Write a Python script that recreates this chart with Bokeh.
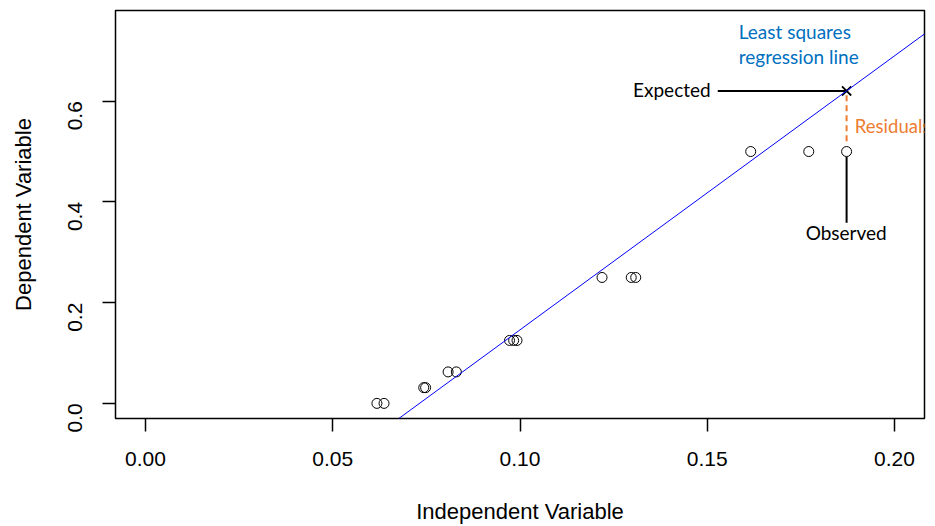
import math
from bokeh.plotting import figure
from bokeh.models import Range1d, FixedTicker, Label, Slope, NumeralTickFormatter
from bokeh.embed import file_html
from bokeh.resources import INLINE

# ---- data ----
x_obs = [0.0618, 0.0637, 0.0743, 0.0748, 0.0808, 0.0830, 0.0972, 0.0983, 0.0992,
         0.1219, 0.1297, 0.1309, 0.1616, 0.1771, 0.1872]
y_obs = [0.0, 0.0, 0.03125, 0.03125, 0.0625, 0.0625, 0.125, 0.125, 0.125,
         0.25, 0.25, 0.25, 0.5, 0.5, 0.5]
x_ticks = [0.00, 0.05, 0.10, 0.15, 0.20]
y_ticks = [0.0, 0.2, 0.4, 0.6]
fit_slope = 5.44
fit_intercept = -0.398
x_sel = 0.1872          # highlighted observation
y_sel_obs = 0.5
y_sel_exp = fit_slope * x_sel + fit_intercept

LABEL_FONT = "Lato"
AXIS_FONT = "Liberation Sans"

p = figure(width=935, height=526, output_backend="svg", toolbar_location=None,
           x_range=Range1d(-0.008, 0.208), y_range=Range1d(-0.03, 0.78),
           min_border_left=115, min_border_right=11, min_border_top=10, min_border_bottom=106)
p.grid.visible = False
p.outline_line_color = "black"
p.outline_line_width = 1.5
p.background_fill_color = "white"
p.border_fill_color = "white"

for ax in (p.xaxis[0], p.yaxis[0]):
    ax.axis_line_color = None
    ax.major_tick_line_color = "black"
    ax.major_tick_line_width = 1.5
    ax.minor_tick_line_color = None
    ax.major_tick_in = 0
    ax.major_label_text_font = AXIS_FONT
    ax.major_label_text_font_size = "21px"
    ax.major_label_text_color = "black"
    ax.axis_label_text_font = AXIS_FONT
    ax.axis_label_text_font_size = "22px"
    ax.axis_label_text_font_style = "normal"
    ax.axis_label_text_color = "black"

p.xaxis.ticker = FixedTicker(ticks=x_ticks)
p.yaxis.ticker = FixedTicker(ticks=y_ticks)
p.xaxis.formatter = NumeralTickFormatter(format="0.00")
p.yaxis.formatter = NumeralTickFormatter(format="0.0")
p.xaxis.axis_label = "Independent Variable"
p.yaxis.axis_label = "Dependent Variable"
p.xaxis.major_tick_out = 13
p.yaxis.major_tick_out = 13
p.xaxis.major_label_standoff = 20
p.xaxis.axis_label_standoff = 30
p.yaxis.major_label_orientation = math.pi / 2
p.yaxis.major_label_standoff = 27
p.yaxis.axis_label_standoff = 23

# regression line
p.add_layout(Slope(gradient=fit_slope, y_intercept=fit_intercept,
                   line_color="#0000FF", line_width=1))

# observations
p.scatter(x_obs, y_obs, marker="circle", size=10, fill_color=None,
          line_color="black", line_width=1)

# expected point
p.scatter([x_sel], [y_sel_exp], marker="x", size=13, line_color="black", line_width=1.8)

# pointer to expected
p.line([0.1528, x_sel], [y_sel_exp, y_sel_exp], line_color="black", line_width=2)
# residual
p.line([x_sel, x_sel], [0.6118, 0.5168], line_color="#ED7D31", line_width=2, line_dash="6 4")
# pointer to observed
p.line([x_sel, x_sel], [0.4891, 0.3586], line_color="black", line_width=2)

def lab(text, x, y, color, align="left", size="19px"):
    p.add_layout(Label(x=x, y=y, text=text, text_color=color, text_font=LABEL_FONT,
                       text_font_size=size, text_align=align, text_baseline="alphabetic"))

lab("Least squares", 0.1584, 0.7379, "#0070C0")
lab("regression line", 0.1584, 0.6885, "#0070C0")
lab("Expected", 0.1509, 0.6224, "black", "right")
lab("Residuals", 0.1894, 0.5500, "#ED7D31", size="18.5px")
lab("Observed", 0.1871, 0.3390, "black", "center")

open("out.html", "w").write(file_html(p, INLINE))
